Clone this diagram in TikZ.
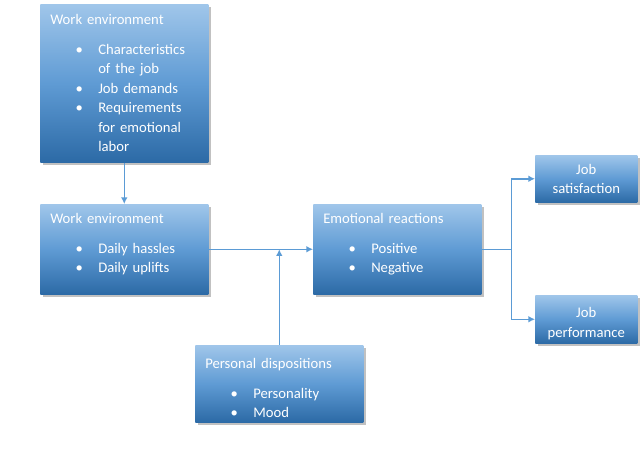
\documentclass[tikz,border=0pt]{standalone}
\usepackage{fontspec}
\setmainfont{Carlito}
\usetikzlibrary{arrows.meta,shadows,positioning}

\definecolor{boxtop}{RGB}{160,198,234}
\definecolor{boxmid}{RGB}{95,155,212}
\definecolor{boxbot}{RGB}{44,106,166}
\definecolor{lineblue}{RGB}{91,155,213}

% one pixel of the original layout
\newdimen\pxu \pxu=0.75pt
% bullet line with hanging indent
\newcommand{\bitem}[1]{\par\hangindent=36pt\hangafter=1\hspace*{19pt}\makebox[17pt][l]{\textbullet}#1}
% taller first line / empty space below the last line
\newcommand{\headgap}[1]{\rule{0pt}{#1}}
\newcommand{\tailgap}[1]{\par\nointerlineskip\vbox to #1{}}

\tikzset{
  panel/.style={anchor=north west, top color=boxtop, bottom color=boxbot, middle color=boxmid,
    drop shadow={shadow xshift=2pt, shadow yshift=-2pt, opacity=0.35, fill=black!70},
    text=white, font=\fontsize{11}{14.6}\selectfont, inner xsep=7.5pt, inner ysep=0pt,
    align=left, execute at begin node=\setlength{\parindent}{0pt}},
  bigpanel/.style={panel, minimum width=168\pxu, text width=111pt},
  smallpanel/.style={panel, minimum width=102\pxu, text width=61.5pt, align=center},
  link/.style={draw=lineblue, line width=1.1pt, ->}
}

\begin{document}
\begin{tikzpicture}[x=0.75pt, y=-0.75pt, >={Latex[length=5pt,width=5pt]}]

  %% Background
  \useasboundingbox (0,0) rectangle (640,457);

  % Boxes
  \node[bigpanel, minimum height=158\pxu] (jobenv) at (40,4)
    {Work environment\par\vskip7.5pt
     \bitem{Characteristics\newline of the job}
     \bitem{Job demands}
     \bitem{Requirements\newline for emotional\newline labor}\par};
  \node[bigpanel, minimum height=90\pxu] (daily) at (40,204)
    {Work environment\par\vskip7.5pt
     \bitem{Daily hassles}
     \bitem{Daily uplifts}\tailgap{7.5pt}};
  \node[bigpanel, minimum height=90\pxu] (emo) at (313,204)
    {Emotional reactions\par\vskip7.5pt
     \bitem{Positive}
     \bitem{Negative}\tailgap{7.5pt}};
  \node[bigpanel, minimum height=77\pxu] (pers) at (195,345)
    {\headgap{14pt}Personal dispositions\par\vskip8pt
     \bitem{Personality}
     \bitem{Mood}\par};
  \node[smallpanel, minimum height=47\pxu] (sat) at (535,155) {Job\\satisfaction};
  \node[smallpanel, minimum height=48\pxu] (perf) at (535,295) {\headgap{14pt}Job\\performance};

  % Connectors
  \coordinate (meet) at (pers.north |- daily.east);
  \coordinate (split) at ([xshift=30\pxu]emo.east);
  \draw[link] (jobenv) -- (daily);
  \draw[link] (daily.east) -- (emo.west);
  \draw[link] (pers.north) -- (meet);
  \draw[link, -] (emo.east) -- (split);
  \draw[link] (split) |- (sat.west);
  \draw[link] (split) |- (perf.west);

\end{tikzpicture}
\end{document}
